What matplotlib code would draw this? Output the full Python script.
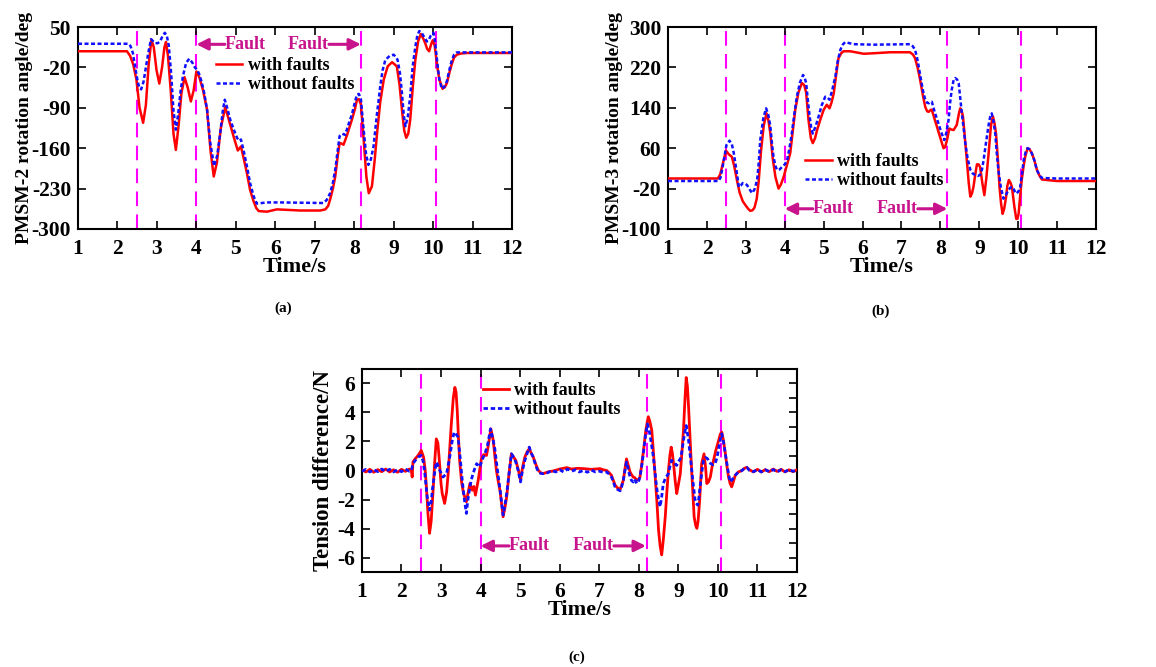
import matplotlib
matplotlib.use("Agg")
import matplotlib.pyplot as plt
from matplotlib.ticker import MultipleLocator

plt.rcParams['font.family'] = ['Liberation Serif', 'DejaVu Serif']
plt.rcParams['font.weight'] = 'bold'
plt.rcParams['axes.unicode_minus'] = False

# ---------------- data: panel (a) PMSM-2 rotation angle (time s, deg) ----------------
a_with = [(1.0, 8), (2.24, 8), (2.32, 0), (2.40, -15), (2.48, -41), (2.56, -90), (2.65, -116),
          (2.72, -85), (2.79, -15), (2.86, 28), (2.92, 15), (2.99, -25), (3.06, -48), (3.13, -20),
          (3.19, 15), (3.23, 24), (3.28, 0), (3.35, -60), (3.42, -135), (3.48, -163), (3.55, -120),
          (3.62, -65), (3.70, -37), (3.78, -55), (3.86, -79), (3.93, -60), (4.00, -27), (4.08, -38),
          (4.17, -60), (4.27, -93), (4.36, -165), (4.44, -209), (4.52, -185), (4.62, -125),
          (4.73, -89), (4.82, -110), (4.94, -139), (5.05, -164), (5.13, -157), (5.20, -178),
          (5.28, -203), (5.36, -232), (5.45, -252), (5.52, -264), (5.58, -269), (5.79, -270),
          (6.04, -266), (6.63, -268), (7.14, -268), (7.27, -266), (7.34, -260), (7.39, -249),
          (7.46, -230), (7.52, -209), (7.58, -175), (7.63, -151), (7.68, -152), (7.73, -154),
          (7.82, -137), (7.94, -111), (8.02, -92), (8.07, -76), (8.12, -75), (8.17, -84),
          (8.24, -145), (8.31, -210), (8.37, -238), (8.45, -226), (8.52, -180), (8.58, -134),
          (8.66, -80), (8.75, -41), (8.85, -18), (8.96, -11), (9.08, -18), (9.15, -50),
          (9.21, -93), (9.27, -130), (9.32, -142), (9.37, -135), (9.42, -111), (9.49, -50),
          (9.55, -7), (9.62, 25), (9.69, 38), (9.75, 30), (9.80, 22), (9.85, 12), (9.90, 8),
          (9.95, 20), (9.99, 27), (10.04, 18), (10.07, 2), (10.12, -25), (10.16, -41),
          (10.24, -57), (10.30, -54), (10.35, -47), (10.41, -30), (10.47, -15), (10.53, -3),
          (10.60, 2), (10.70, 4), (10.86, 5), (12.0, 5)]
a_without = [(1.0, 21), (2.28, 21), (2.33, 17), (2.39, 5), (2.45, -20), (2.50, -40), (2.55, -55),
             (2.60, -58), (2.66, -45), (2.72, -20), (2.78, 5), (2.85, 29), (2.91, 25), (2.96, 22),
             (3.02, 22), (3.08, 25), (3.14, 34), (3.20, 40), (3.25, 35), (3.30, 18), (3.36, -30),
             (3.42, -95), (3.48, -128), (3.54, -100), (3.60, -60), (3.66, -35), (3.74, -12),
             (3.82, -5), (3.90, -12), (3.96, -20), (4.02, -24), (4.08, -33), (4.14, -47),
             (4.20, -65), (4.27, -93), (4.35, -150), (4.45, -191), (4.53, -172), (4.61, -130),
             (4.67, -95), (4.72, -76), (4.78, -90), (4.86, -111), (4.95, -128), (5.03, -142),
             (5.08, -147), (5.13, -145), (5.20, -165), (5.28, -191), (5.36, -220), (5.45, -243),
             (5.53, -256), (5.79, -254), (6.13, -254), (7.22, -255), (7.30, -250), (7.39, -238),
             (7.46, -220), (7.52, -197), (7.58, -165), (7.63, -139), (7.70, -135), (7.77, -137),
             (7.85, -120), (7.94, -102), (8.02, -80), (8.07, -67), (8.12, -66), (8.17, -75),
             (8.24, -128), (8.30, -170), (8.36, -189), (8.42, -180), (8.49, -157), (8.57, -105),
             (8.66, -53), (8.72, -25), (8.79, -7), (8.90, 0), (9.00, 2), (9.06, -2), (9.10, -7),
             (9.16, -30), (9.21, -64), (9.26, -105), (9.30, -122), (9.36, -105), (9.42, -70),
             (9.48, -20), (9.55, 16), (9.60, 35), (9.65, 43), (9.71, 40), (9.78, 32), (9.84, 25),
             (9.88, 26), (9.94, 35), (10.01, 40), (10.05, 25), (10.08, 5), (10.12, -20),
             (10.16, -41), (10.22, -57), (10.28, -54), (10.35, -44), (10.41, -25), (10.47, -9),
             (10.53, 2), (10.60, 6), (12.0, 6)]

# ---------------- data: panel (b) PMSM-3 rotation angle (time s, deg) ----------------
b_with = [(1.0, 0), (2.28, 0), (2.34, 8), (2.41, 30), (2.49, 55), (2.56, 48), (2.64, 43), (2.70, 25),
          (2.77, -3), (2.84, -28), (2.92, -45), (3.00, -54), (3.06, -60), (3.11, -64), (3.17, -63),
          (3.22, -58), (3.28, -40), (3.33, -5), (3.39, 55), (3.46, 105), (3.53, 129), (3.58, 115),
          (3.63, 89), (3.69, 40), (3.76, 3), (3.84, -20), (3.90, -12), (3.97, 3), (4.05, 25),
          (4.14, 50), (4.20, 90), (4.27, 136), (4.35, 170), (4.44, 189), (4.50, 185), (4.55, 170),
          (4.61, 116), (4.67, 80), (4.72, 70), (4.78, 80), (4.83, 96), (4.92, 118), (5.00, 136),
          (5.08, 146), (5.15, 139), (5.20, 150), (5.26, 169), (5.32, 205), (5.38, 238), (5.45, 248),
          (5.51, 252), (5.68, 252), (6.03, 247), (6.28, 248), (6.71, 250), (7.22, 250), (7.30, 245),
          (7.35, 238), (7.42, 218), (7.48, 195), (7.55, 165), (7.61, 142), (7.66, 133), (7.70, 132),
          (7.75, 136), (7.78, 136), (7.85, 118), (7.91, 103), (8.00, 80), (8.08, 60), (8.12, 62),
          (8.17, 76), (8.23, 99), (8.28, 97), (8.34, 96), (8.42, 106), (8.48, 130), (8.51, 139),
          (8.55, 133), (8.58, 123), (8.63, 80), (8.68, 36), (8.73, -10), (8.77, -36), (8.81, -30),
          (8.85, -17), (8.90, 10), (8.94, 28), (8.98, 28), (9.02, 23), (9.08, -10), (9.13, -33),
          (9.18, 0), (9.24, 50), (9.30, 105), (9.35, 123), (9.39, 110), (9.43, 89), (9.48, 35),
          (9.52, -17), (9.56, -50), (9.60, -70), (9.64, -60), (9.69, -36), (9.72, -15), (9.76, -3),
          (9.80, -8), (9.84, -17), (9.90, -55), (9.95, -80), (9.98, -80), (10.01, -70), (10.05, -35),
          (10.09, -3), (10.14, 25), (10.18, 43), (10.24, 60), (10.29, 58), (10.35, 50), (10.42, 35),
          (10.48, 17), (10.55, 5), (10.61, -2), (10.99, -5), (12.0, -5)]
b_without = [(1.0, -5), (2.30, -5), (2.35, 2), (2.42, 30), (2.50, 66), (2.58, 75), (2.64, 68),
             (2.69, 50), (2.76, 15), (2.82, -17), (2.87, -14), (2.92, -9), (2.98, -10), (3.03, -13),
             (3.10, -22), (3.16, -29), (3.22, -22), (3.29, -3), (3.33, 30), (3.37, 76), (3.45, 120),
             (3.52, 139), (3.58, 125), (3.63, 103), (3.67, 70), (3.71, 43), (3.76, 25), (3.80, 17),
             (3.87, 18), (3.93, 23), (4.00, 28), (4.06, 36), (4.12, 60), (4.18, 89), (4.25, 130),
             (4.31, 162), (4.39, 190), (4.47, 205), (4.51, 200), (4.55, 189), (4.60, 150),
             (4.64, 123), (4.68, 100), (4.72, 89), (4.80, 105), (4.87, 123), (4.95, 145),
             (5.04, 162), (5.10, 160), (5.15, 156), (5.22, 175), (5.30, 202), (5.36, 232),
             (5.43, 255), (5.49, 265), (5.55, 270), (5.77, 266), (6.28, 265), (7.22, 266),
             (7.29, 262), (7.35, 255), (7.42, 232), (7.48, 205), (7.55, 175), (7.61, 156),
             (7.66, 150), (7.70, 149), (7.74, 152), (7.78, 152), (7.86, 130), (7.95, 109),
             (8.03, 90), (8.10, 76), (8.15, 90), (8.21, 116), (8.25, 150), (8.29, 175), (8.34, 195),
             (8.38, 199), (8.43, 196), (8.47, 189), (8.51, 160), (8.55, 129), (8.60, 98), (8.64, 70),
             (8.70, 40), (8.77, 17), (8.83, 10), (8.89, 7), (8.96, 5), (9.02, 7), (9.07, 18),
             (9.11, 36), (9.18, 75), (9.24, 106), (9.28, 122), (9.32, 129), (9.36, 115), (9.41, 89),
             (9.45, 50), (9.49, 17), (9.55, -15), (9.62, -40), (9.68, -33), (9.75, -23), (9.80, -18),
             (9.86, -17), (9.91, -25), (9.96, -30), (10.01, -25), (10.05, -17), (10.10, 10),
             (10.14, 36), (10.19, 52), (10.24, 60), (10.29, 58), (10.35, 50), (10.42, 35),
             (10.48, 17), (10.55, 6), (10.61, 1), (10.99, 0), (12.0, 0)]

# ---------------- data: panel (c) tension difference (time s, N) ----------------
c_with = [(1.0, 0.05), (1.1, -0.1), (1.2, 0.08), (1.3, -0.12), (1.4, 0.06), (1.5, -0.08), (1.6, 0.1),
          (1.7, -0.1), (1.8, 0.05), (1.9, -0.12), (2.0, 0.08), (2.1, -0.06), (2.2, 0.1), (2.25, 0.0),
          (2.27, -0.45), (2.29, 0.6), (2.36, 0.85), (2.42, 1.04), (2.50, 1.38), (2.56, 0.9),
          (2.60, 0.0), (2.63, -1.13), (2.67, -3.0), (2.71, -4.33), (2.75, -3.5), (2.80, -1.35),
          (2.84, 0.6), (2.88, 2.18), (2.92, 1.9), (2.95, 0.93), (3.00, -0.9), (3.03, -1.59),
          (3.09, -2.27), (3.14, -1.5), (3.18, -0.22), (3.22, 1.5), (3.26, 3.21), (3.31, 5.0),
          (3.35, 5.73), (3.38, 5.4), (3.41, 4.13), (3.44, 2.3), (3.47, 0.7), (3.52, -0.8),
          (3.57, -1.59), (3.64, -2.16), (3.68, -1.6), (3.73, -0.9), (3.79, -1.36), (3.83, -1.1),
          (3.87, -1.7), (3.94, -0.67), (4.02, 0.81), (4.08, 1.1), (4.15, 1.04), (4.20, 1.8),
          (4.26, 2.87), (4.32, 2.07), (4.36, 1.0), (4.40, 0.0), (4.45, -0.8), (4.49, -1.36),
          (4.53, -2.3), (4.57, -3.19), (4.62, -2.5), (4.66, -1.82), (4.72, -0.2), (4.78, 1.15),
          (4.84, 0.9), (4.89, 0.7), (4.95, 0.1), (5.01, -0.67), (5.06, 0.2), (5.12, 0.93),
          (5.18, 1.3), (5.23, 1.5), (5.28, 1.2), (5.33, 0.93), (5.40, 0.4), (5.46, 0.01),
          (5.52, -0.15), (5.58, -0.22), (5.70, -0.1), (5.84, -0.03), (6.0, 0.1), (6.18, 0.2),
          (6.3, 0.1), (6.45, 0.15), (6.60, 0.13), (6.8, 0.08), (7.02, 0.13), (7.10, 0.05),
          (7.19, 0.0), (7.25, -0.15), (7.31, -0.33), (7.36, -0.7), (7.40, -1.0), (7.46, -1.2),
          (7.53, -1.3), (7.57, -1.0), (7.61, -0.67), (7.65, 0.1), (7.69, 0.8), (7.73, 0.4),
          (7.78, -0.1), (7.82, -0.3), (7.86, -0.45), (7.90, -0.5), (7.95, -0.67), (8.00, -0.6),
          (8.03, -0.45), (8.08, 0.5), (8.12, 1.38), (8.18, 2.8), (8.24, 3.71), (8.28, 3.4),
          (8.33, 2.75), (8.37, 1.3), (8.41, -0.22), (8.46, -2.2), (8.50, -4.1), (8.54, -5.2),
          (8.58, -5.82), (8.62, -4.8), (8.67, -3.19), (8.71, -1.5), (8.75, 0.0), (8.79, 1.1),
          (8.82, 1.61), (8.85, 1.2), (8.88, 0.47), (8.92, -0.7), (8.96, -1.59), (9.00, -1.0),
          (9.05, -0.22), (9.09, 1.2), (9.13, 2.75), (9.17, 5.0), (9.20, 6.41), (9.23, 5.8),
          (9.26, 4.35), (9.29, 2.6), (9.32, 0.93), (9.36, -1.2), (9.40, -3.19), (9.44, -3.8),
          (9.47, -3.99), (9.50, -3.5), (9.54, -2.05), (9.59, 0.47), (9.65, 1.15), (9.69, 0.2),
          (9.72, -0.9), (9.76, -0.8), (9.81, -0.45), (9.85, 0.2), (9.89, 0.7), (9.95, 1.4),
          (10.02, 2.07), (10.06, 2.5), (10.10, 2.64), (10.14, 2.1), (10.19, 1.15), (10.23, 0.3),
          (10.27, -0.45), (10.31, -0.9), (10.35, -1.13), (10.40, -0.7), (10.44, -0.33),
          (10.52, -0.1), (10.61, 0.0), (10.67, 0.15), (10.73, 0.22), (10.80, 0.05), (10.90, -0.1),
          (11.0, 0.08), (11.1, -0.1), (11.2, 0.06), (11.3, -0.08), (11.4, 0.1), (11.5, -0.06),
          (11.6, 0.08), (11.7, -0.1), (11.8, 0.05), (11.9, -0.08), (12.0, 0.05)]
c_without = [(1.0, -0.05), (1.1, 0.08), (1.2, -0.1), (1.3, 0.06), (1.4, -0.08), (1.5, 0.1),
             (1.6, -0.06), (1.7, 0.08), (1.8, -0.1), (1.9, 0.06), (2.0, -0.08), (2.1, 0.1),
             (2.2, -0.05), (2.25, 0.0), (2.29, 0.47), (2.35, 0.7), (2.42, 0.93), (2.50, 1.04),
             (2.55, 0.6), (2.59, -0.22), (2.65, -1.82), (2.71, -2.73), (2.75, -2.2), (2.78, -1.36),
             (2.83, -0.3), (2.88, 0.58), (2.93, 0.3), (2.97, 0.0), (3.05, -0.45), (3.14, -0.22),
             (3.22, 0.93), (3.28, 2.0), (3.33, 2.64), (3.38, 2.5), (3.43, 2.3), (3.48, 1.0),
             (3.52, -0.22), (3.58, -1.8), (3.64, -2.96), (3.68, -2.0), (3.73, -1.13), (3.77, -0.6),
             (3.81, -0.22), (3.86, 0.2), (3.90, 0.47), (3.98, 0.24), (4.05, 0.8), (4.11, 1.15),
             (4.18, 1.8), (4.25, 2.87), (4.31, 2.2), (4.36, 1.5), (4.40, 0.6), (4.44, -0.22),
             (4.50, -1.5), (4.57, -3.07), (4.62, -2.3), (4.66, -1.59), (4.72, -0.2), (4.78, 1.15),
             (4.84, 0.9), (4.89, 0.58), (4.95, 0.0), (5.01, -0.79), (5.06, 0.0), (5.12, 0.7),
             (5.18, 1.2), (5.23, 1.61), (5.28, 1.2), (5.33, 0.93), (5.40, 0.3), (5.46, -0.1),
             (5.52, -0.2), (5.58, -0.22), (5.7, -0.15), (5.8, 0.0), (5.9, -0.1), (6.0, 0.05),
             (6.1, -0.1), (6.2, 0.1), (6.3, -0.05), (6.4, 0.05), (6.5, -0.1), (6.6, 0.0),
             (6.7, -0.12), (6.8, 0.03), (6.9, -0.1), (7.0, -0.05), (7.1, -0.12), (7.19, -0.1),
             (7.25, -0.25), (7.31, -0.45), (7.36, -0.8), (7.40, -1.13), (7.46, -1.3), (7.53, -1.4),
             (7.57, -1.1), (7.61, -0.67), (7.65, 0.0), (7.69, 0.58), (7.73, 0.1), (7.78, -0.45),
             (7.82, -0.7), (7.86, -0.79), (7.90, -0.6), (7.95, -0.9), (8.00, -0.7), (8.03, -0.45),
             (8.08, 0.4), (8.12, 1.27), (8.17, 2.4), (8.22, 3.21), (8.25, 2.9), (8.28, 2.53),
             (8.32, 1.8), (8.37, 0.93), (8.41, -0.1), (8.45, -1.13), (8.50, -2.0), (8.54, -2.5),
             (8.58, -1.8), (8.62, -0.9), (8.68, -0.5), (8.75, -0.22), (8.79, 0.3), (8.83, 0.7),
             (8.90, 0.5), (8.96, 0.35), (9.00, 0.6), (9.05, 0.81), (9.09, 1.3), (9.13, 2.07),
             (9.17, 2.7), (9.20, 3.1), (9.23, 2.6), (9.26, 2.07), (9.30, 1.0), (9.34, 0.0),
             (9.38, -1.0), (9.43, -2.16), (9.49, -2.39), (9.52, -1.9), (9.55, -1.13), (9.60, 0.0),
             (9.64, 0.7), (9.69, 0.9), (9.74, 0.81), (9.78, 0.6), (9.82, 0.47), (9.88, 0.4),
             (9.93, 0.47), (9.98, 0.9), (10.02, 1.5), (10.06, 2.1), (10.10, 2.53), (10.14, 2.0),
             (10.19, 1.15), (10.25, 0.1), (10.31, -0.79), (10.37, -0.6), (10.44, -0.33),
             (10.52, -0.1), (10.61, 0.0), (10.67, 0.15), (10.73, 0.22), (10.80, 0.0), (10.90, -0.08),
             (11.0, 0.06), (11.1, -0.1), (11.2, 0.05), (11.3, -0.08), (11.4, 0.06), (11.5, -0.1),
             (11.6, 0.05), (11.7, -0.08), (11.8, 0.06), (11.9, -0.05), (12.0, 0.0)]

fault_lines_a = [2.5, 4.0, 8.17, 10.07]
fault_lines_b = [2.48, 4.0, 8.18, 10.08]
fault_lines_c = [2.5, 4.0, 8.2, 10.08]

xticks = list(range(1, 13))
yticks_a = [-300, -230, -160, -90, -20, 50]
yticks_b = [-100, -20, 60, 140, 220, 300]
yticks_c = [-6, -4, -2, 0, 2, 4, 6]

RED = '#FF0000'
BLUE = '#1010FF'
MAG = '#FF00FF'
FAULT = '#C8148C'
TICKFS = 15.5

fig = plt.figure(figsize=(11.56, 6.67), dpi=100)


def unzip(pairs):
    return [p[0] for p in pairs], [p[1] for p in pairs]


def style(ax, ylim, yticks, ylabel, minor_right=None, ylabelpad=-1, ylabelsize=14):
    ax.set_xlim(1, 12)
    ax.set_ylim(*ylim)
    ax.set_xticks(xticks)
    ax.set_yticks(yticks)
    ax.tick_params(direction='in', top=True, right=True, length=6, width=1.2,
                   labelsize=TICKFS)
    ax.tick_params(axis='x', pad=7)
    ax.tick_params(axis='y', pad=5)
    if minor_right is not None:
        ax.yaxis.set_minor_locator(MultipleLocator(minor_right))
        ax.tick_params(which='minor', direction='in', left=False, right=True,
                       length=6, width=1.2)
    for lbl in ax.get_xticklabels() + ax.get_yticklabels():
        lbl.set_fontweight('bold')
    for s in ax.spines.values():
        s.set_linewidth(1.5)
    ax.set_xlabel('Time/s', fontsize=16, fontweight='bold', labelpad=-1)
    ax.set_ylabel(ylabel, fontsize=ylabelsize, fontweight='bold', labelpad=ylabelpad)


def draw(ax, with_pairs, without_pairs, vlines, fault_y, fault_x, legend_anchor, lw=1.8):
    for x in vlines:
        ax.axvline(x, color=MAG, lw=1.5, dashes=(7, 4), zorder=1)
    t1, v1 = unzip(with_pairs)
    t2, v2 = unzip(without_pairs)
    ax.plot(t1, v1, color=RED, lw=lw, label='with faults', zorder=3)
    ax.plot(t2, v2, color=BLUE, lw=lw, dashes=(1.6, 1.0), label='without faults', zorder=4)
    (l_head, l_text, r_text_end, r_head) = fault_x
    ax.annotate('', xy=(l_head, fault_y), xytext=(l_text, fault_y),
                arrowprops=dict(arrowstyle='-|>', color=FAULT, lw=2.2, mutation_scale=17,
                                shrinkA=0, shrinkB=0))
    ax.text(l_text, fault_y, 'Fault', color=FAULT, fontsize=13, fontweight='bold',
            ha='left', va='center')
    ax.annotate('', xy=(r_head, fault_y), xytext=(r_text_end, fault_y),
                arrowprops=dict(arrowstyle='-|>', color=FAULT, lw=2.2, mutation_scale=17,
                                shrinkA=0, shrinkB=0))
    ax.text(r_text_end, fault_y, 'Fault', color=FAULT, fontsize=13, fontweight='bold',
            ha='right', va='center')
    ax.legend(loc='upper left', bbox_to_anchor=legend_anchor, frameon=False,
              handlelength=1.45, handletextpad=0.3, labelspacing=0.1,
              borderpad=0, borderaxespad=0, prop={'weight': 'bold', 'size': 13})


# panel (a)
axa = fig.add_axes([0.0675, 0.6567, 0.3754, 0.3028])
draw(axa, a_with, a_without, fault_lines_a, 20, (4.0, 4.72, 7.36, 8.17), (0.318, 0.85))
style(axa, (-300, 50), yticks_a, 'PMSM-2 rotation angle/deg')

# panel (b)
axb = fig.add_axes([0.5779, 0.6567, 0.3702, 0.3028])
draw(axb, b_with, b_without, fault_lines_b, -60, (4.0, 4.72, 7.42, 8.18), (0.321, 0.375))
style(axb, (-100, 300), yticks_b, 'PMSM-3 rotation angle/deg')

# panel (c)
axc = fig.add_axes([0.3131, 0.1424, 0.3763, 0.3044])
draw(axc, c_with, c_without, fault_lines_c, -5.2, (4.0, 4.72, 7.37, 8.18), (0.278, 0.935), lw=2.0)
style(axc, (-7, 7), yticks_c, 'Tension difference/N', minor_right=1, ylabelpad=2,
      ylabelsize=16.5)

fig.text(283 / 1156, 1 - 308 / 667, '(a)', fontsize=11, fontweight='bold', ha='center', va='center')
fig.text(881 / 1156, 1 - 311 / 667, '(b)', fontsize=11, fontweight='bold', ha='center', va='center')
fig.text(577 / 1156, 1 - 657 / 667, '(c)', fontsize=11, fontweight='bold', ha='center', va='center')

fig.savefig('out.png', dpi=100)
